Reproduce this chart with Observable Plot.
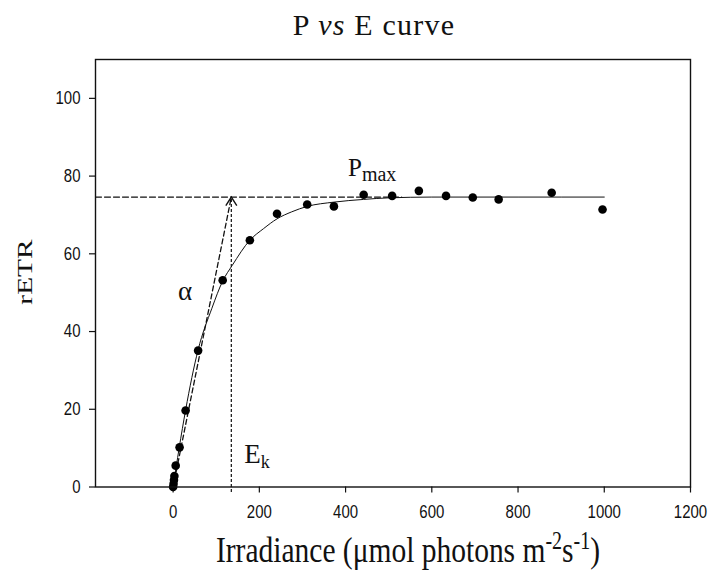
<!DOCTYPE html>
<html>
<head>
<meta charset="utf-8">
<script src="https://cdn.jsdelivr.net/npm/d3@7"></script>
<script src="https://cdn.jsdelivr.net/npm/@observablehq/plot@0.6"></script>
<style>
  body { margin: 0; background: #fff; }
  #chart { width: 708px; height: 580px; }
</style>
</head>
<body>
<div id="chart"></div>
<script>
// ---- data ----
const irradiance = [0, 1, 2, 3, 6, 15, 29, 58, 115, 178, 241, 311, 373, 442, 508, 570, 633, 695, 755, 878, 996];
const rETR       = [0, 0.8, 1.8, 2.8, 5.5, 10.2, 19.7, 35.1, 53.2, 63.5, 70.3, 72.7, 72.2, 75.2, 74.9, 76.2, 74.9, 74.5, 74.0, 75.7, 71.4];

// fitted curve
const fitE = [0, 14, 29, 58, 90, 115, 137, 178, 210, 241, 275, 311, 373, 442, 500, 600, 800, 1000];
const fitP = [0, 10, 19.8, 35.3, 46, 53, 57, 63.5, 66.5, 69, 70.8, 72.2, 73.3, 74.0, 74.4, 74.6, 74.6, 74.6];

const pmax = 74.6;      // light-saturated rETR
const ek = 135;         // saturation irradiance
const pmaxLineEnd = 530;

const xTicks = [0, 200, 400, 600, 800, 1000, 1200];
const yTicks = [0, 20, 40, 60, 80, 100];
const xDomain = [-180, 1200];
const yDomain = [0, 110];

const titleParts = ["P ", "vs", " E curve"];
const yLabel = "rETR";
const xLabelParts = ["Irradiance (\u03BCmol photons m", "-2", "s", "-1", ")"];

// annotations (data units)
const annAlpha = {x: 28.8, y: 48.0, text: "\u03B1"};
const annPmax = {x: 406.8, y: 79.8, text: "P", sub: "max"};
const annEk = {x: 166.3, y: 6.1, text: "E", sub: "k"};

// ---- build ----
const points = irradiance.map((e, i) => ({e, p: rETR[i]}));
const fit = fitE.map((e, i) => ({e, p: fitP[i]}));
const alphaLine = [{e: 0, p: 0}, {e: ek, p: pmax}];
const pmaxLine = [{e: xDomain[0], p: pmax}, {e: pmaxLineEnd, p: pmax}];

const chevron = {
  draw(ctx) {
    ctx.moveTo(-5.5, 8.5);
    ctx.lineTo(0, 0);
    ctx.lineTo(5.5, 8.5);
  }
};

const ink = "#111";

const chart = Plot.plot({
  width: 708,
  height: 580,
  marginLeft: 95,
  marginRight: 18,
  marginTop: 59,
  marginBottom: 93.5,
  x: {domain: xDomain},
  y: {domain: yDomain},
  style: {fontFamily: "'Liberation Sans', Arial, sans-serif", fontSize: "15px", color: ink, background: "white", overflow: "visible"},
  marks: [
    Plot.axisX({ticks: xTicks, tickSize: 6, tickPadding: 12, tickFormat: d => String(d), label: null, strokeWidth: 1.2}),
    Plot.axisY({ticks: yTicks, tickSize: 6, tickPadding: 9, tickFormat: d => String(d), label: null, strokeWidth: 1.2}),
    Plot.line(pmaxLine, {x: "e", y: "p", stroke: ink, strokeWidth: 1.3, strokeDasharray: "6,3"}),
    Plot.line(alphaLine, {x: "e", y: "p", stroke: ink, strokeWidth: 1.3, strokeDasharray: "5,3"}),
    Plot.ruleX([ek], {y1: -1.4, y2: pmax, stroke: ink, strokeWidth: 1.2, strokeDasharray: "3,2"}),
    Plot.dot([{e: ek, p: pmax}], {x: "e", y: "p", symbol: chevron, fill: "none", stroke: ink, strokeWidth: 1.4}),
    Plot.line(fit, {x: "e", y: "p", curve: "monotone-x", stroke: ink, strokeWidth: 1}),
    Plot.dot(points, {x: "e", y: "p", r: 4.3, fill: "#000", stroke: "none"}),
    Plot.frame({stroke: ink, strokeWidth: 1.4})
  ]
});

document.getElementById("chart").appendChild(chart);

const svg = d3.select(chart);
const sx = v => chart.scale("x").apply(v);
const sy = v => chart.scale("y").apply(v);
const serif = "'Liberation Serif', 'Times New Roman', serif";

// stretch tick labels slightly vertically like the reference
svg.selectAll("g[aria-label='x-axis tick label'] text, g[aria-label='y-axis tick label'] text")
  .attr("transform", function() { return (this.getAttribute("transform") || "") + " scale(1,1.2)"; });

// title
const t = svg.append("text")
  .attr("x", 374).attr("y", 35)
  .attr("text-anchor", "middle")
  .attr("font-family", serif).attr("font-size", 30)
  .attr("letter-spacing", 1.2)
  .attr("fill", ink);
t.append("tspan").text(titleParts[0]);
t.append("tspan").attr("font-style", "italic").text(titleParts[1]);
t.append("tspan").text(titleParts[2]);

// x label
const xl = svg.append("text")
  .attr("transform", "translate(408,562) scale(1,1.22)")
  .attr("text-anchor", "middle")
  .attr("font-family", serif).attr("font-size", 29.5)
  .attr("fill", ink);
xl.append("tspan").text(xLabelParts[0]);
xl.append("tspan").attr("dy", -11).attr("font-size", 20).text(xLabelParts[1]);
xl.append("tspan").attr("dy", 11).text(xLabelParts[2]);
xl.append("tspan").attr("dy", -11).attr("font-size", 20).text(xLabelParts[3]);
xl.append("tspan").attr("dy", 11).text(xLabelParts[4]);

// y label
svg.append("text")
  .attr("transform", "translate(32,272) rotate(-90) scale(1.4,1)")
  .attr("text-anchor", "middle")
  .attr("font-family", serif).attr("font-size", 21)
  .attr("fill", ink)
  .text(yLabel);

// annotations
svg.append("text")
  .attr("x", sx(annAlpha.x)).attr("y", sy(annAlpha.y))
  .attr("text-anchor", "middle")
  .attr("font-family", serif).attr("font-size", 27)
  .attr("fill", ink)
  .text(annAlpha.text);

const pm = svg.append("text")
  .attr("x", sx(annPmax.x)).attr("y", sy(annPmax.y))
  .attr("text-anchor", "start")
  .attr("font-family", serif).attr("font-size", 25)
  .attr("fill", ink);
pm.append("tspan").text(annPmax.text);
pm.append("tspan").attr("dy", 5).attr("font-size", 20).text(annPmax.sub);

const ekt = svg.append("text")
  .attr("x", sx(annEk.x)).attr("y", sy(annEk.y))
  .attr("text-anchor", "start")
  .attr("font-family", serif).attr("font-size", 27)
  .attr("fill", ink);
ekt.append("tspan").text(annEk.text);
ekt.append("tspan").attr("dy", 5).attr("font-size", 18).text(annEk.sub);
</script>
</body>
</html>
